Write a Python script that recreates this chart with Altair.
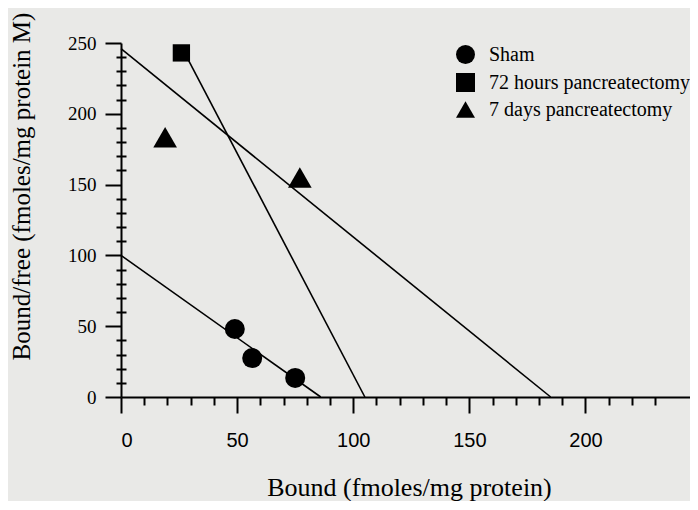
import altair as alt
import pandas as pd

groups = ["Sham", "72 hours pancreatectomy", "7 days pancreatectomy"]
shapes = ["circle", "square", "triangle-up"]
sizes = [400, 300, 560]

# measured points (Bound, Bound/free)
sham_bound = [49, 56.5, 75]
sham_ratio = [48, 27.5, 13.5]
h72_bound = [26]
h72_ratio = [243]
d7_bound = [19, 77]
d7_ratio = [183.5, 155]

# Scatchard fit lines (end points)
sham_line_x = [0, 86]
sham_line_y = [100, 0]
h72_line_x = [27.4, 105]
h72_line_y = [243, 0]
d7_line_x = [0, 185]
d7_line_y = [246, 0]

x_major = [0, 50, 100, 150, 200]
x_minor = [v for v in range(10, 240, 10) if v % 50]
y_major = [0, 50, 100, 150, 200, 250]
y_minor = [v for v in range(10, 250, 10) if v % 50]

pt_sets = [(sham_bound, sham_ratio), (h72_bound, h72_ratio), (d7_bound, d7_ratio)]
line_sets = [(sham_line_x, sham_line_y), (h72_line_x, h72_line_y), (d7_line_x, d7_line_y)]

lines = pd.DataFrame(
    [{"group": g, "b": b, "r": r}
     for g, (bx, ry) in zip(groups, line_sets) for b, r in zip(bx, ry)]
)

xs = alt.Scale(domain=[0, 245], nice=False, zero=False)
ys = alt.Scale(domain=[0, 250], nice=False, zero=False)
shape_scale = alt.Scale(domain=groups, range=shapes)

common_axis = dict(grid=False, domainColor="black", tickColor="black", labelColor="black",
                   titleColor="black")

x_major_axis = alt.Axis(values=x_major, tickSize=16, tickWidth=2, domainWidth=2,
                        labelFont="Liberation Sans", labelFontSize=20, labelPadding=17,
                        title="Bound (fmoles/mg protein)", titleFont="Liberation Serif",
                        titleFontSize=26, titleFontWeight="normal", titleX=288, titleY=98,
                        titleBaseline="alphabetic", titleAlign="center", orient="bottom",
                        **common_axis)
y_major_axis = alt.Axis(values=y_major, tickSize=16, tickWidth=2, domainWidth=2,
                        labelFont="Liberation Serif", labelFontSize=19, labelPadding=9,
                        title="Bound/free (fmoles/mg protein M)", titleFont="Liberation Serif",
                        titleFontSize=25, titleFontWeight="normal", titleX=-100, titleY=143,
                        titleAngle=270, titleBaseline="middle", titleAlign="center",
                        orient="left", **common_axis)
x_minor_axis = alt.Axis(values=x_minor, tickSize=8, tickWidth=2, labels=False, domain=False,
                        title="", orient="bottom", **common_axis)
y_minor_axis = alt.Axis(values=y_minor, tickSize=10, tickWidth=2, labels=False, domain=False,
                        title="", orient="left", offset=-5, **common_axis)

line_layer = alt.Chart(lines).mark_line(color="black", strokeWidth=1.6).encode(
    x=alt.X("b:Q", scale=xs, axis=x_major_axis),
    y=alt.Y("r:Q", scale=ys, axis=y_major_axis),
    detail="group:N",
)

legend = alt.Legend(orient="none", legendX=334, legendY=1, title=None,
                    symbolSize=360, symbolFillColor="black", symbolStrokeColor="black",
                    symbolOpacity=1, labelFont="Liberation Serif", labelFontSize=20,
                    labelColor="black", labelOffset=13, rowPadding=3, padding=0,
                    labelLimit=400)

point_layers = []
for g, (bx, ry), sz in zip(groups, pt_sets, sizes):
    df = pd.DataFrame({"group": [g] * len(bx), "b": bx, "r": ry})
    point_layers.append(
        alt.Chart(df).mark_point(filled=True, color="black", opacity=1, size=sz).encode(
            x=alt.X("b:Q", scale=xs, axis=x_minor_axis),
            y=alt.Y("r:Q", scale=ys, axis=y_minor_axis),
            shape=alt.Shape("group:N", scale=shape_scale, legend=legend),
        )
    )

points = alt.layer(*point_layers)

chart = alt.layer(line_layer, points).resolve_axis(
    x="independent", y="independent"
).properties(
    width=569, height=354,
    autosize=alt.AutoSizeParams(type="none"),
    padding={"left": 113, "top": 35, "right": 0, "bottom": 104},
    background="#e9e9e7",
).configure_view(strokeWidth=0, fill="#e9e9e7").configure_legend(
    labelFont="Liberation Serif", labelFontSize=20, labelColor="black", rowPadding=3
)

chart.save("out.html", embed_options={"renderer": "svg", "actions": False})
